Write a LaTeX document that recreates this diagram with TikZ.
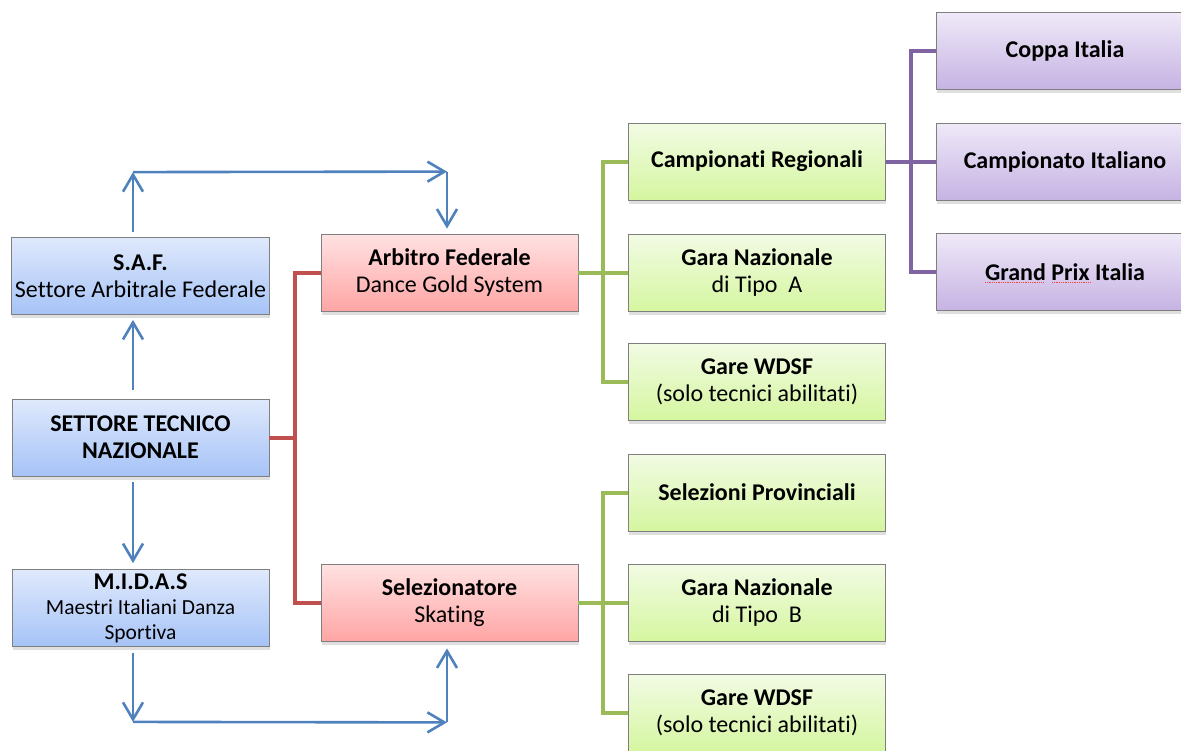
\documentclass[tikz,border=0pt]{standalone}
\usepackage{fontspec}
\setmainfont[Ligatures=NoCommon]{Carlito}
\usetikzlibrary{calc}
\usetikzlibrary{shadows}
\usetikzlibrary{arrows.meta}

\definecolor{boxgray}{HTML}{7F7F7F}
\definecolor{bluetop}{HTML}{DFE9FC}
\definecolor{bluebot}{HTML}{A6C3F7}
\definecolor{redtop}{HTML}{FFE2E2}
\definecolor{redbot}{HTML}{FFA5A5}
\definecolor{grntop}{HTML}{F2FBE4}
\definecolor{grnbot}{HTML}{D5F6A0}
\definecolor{purtop}{HTML}{EFE9F8}
\definecolor{purbot}{HTML}{C6B3E3}
\definecolor{blueln}{HTML}{4F81BD}
\definecolor{redln}{HTML}{C0504D}
\definecolor{grnln}{HTML}{9BBB59}
\definecolor{purln}{HTML}{8064A2}

\tikzset{
  >={Straight Barb[length=17pt,width=20pt]},
  box/.style={draw=boxgray, line width=0.8pt, minimum width=257pt, minimum height=77pt,
    align=center, font=\fontsize{24}{27}\selectfont,
    drop shadow={shadow xshift=0.5pt, shadow yshift=-3.5pt, opacity=0.25}},
  bluebox/.style={box, top color=bluetop, bottom color=bluebot},
  redbox/.style={box, top color=redtop, bottom color=redbot},
  grnbox/.style={box, top color=grntop, bottom color=grnbot},
  purbox/.style={box, top color=purtop, bottom color=purbot},
  bluearrow/.style={draw=blueln, line width=2.6pt, ->},
  redconn/.style={draw=redln, line width=4pt},
  grnconn/.style={draw=grnln, line width=4pt},
  purconn/.style={draw=purln, line width=4pt},
}

\begin{document}
\begin{tikzpicture}[x=1pt,y=-1pt]

\useasboundingbox (0,0) rectangle (1181,750);

% colonna di sinistra
\node[bluebox] (saf) at (140.5,276) {\textbf{S.A.F.}\\Settore Arbitrale Federale};
\node[bluebox] (stn) at (140.5,437.5) {\textbf{SETTORE TECNICO}\\\textbf{NAZIONALE}};
\node[bluebox, font=\fontsize{21.5}{25}\selectfont] (midas) at (140.5,608)
  {\textbf{\fontsize{24}{25}\selectfont M.I.D.A.S}\\Maestri Italiani Danza\\Sportiva};

% arbitri
\node[redbox] (arbitro) at (449.5,272.5) {\textbf{Arbitro Federale}\\Dance Gold System};
\node[redbox] (selez) at (449.5,602.5) {\textbf{Selezionatore}\\Skating};

% gare
\node[grnbox] (campreg) at (757,161.5) {\textbf{Campionati Regionali}};
\node[grnbox] (garaA) at (757,272.5) {\textbf{Gara Nazionale}\\di Tipo\ \ A};
\node[grnbox] (wdsfA) at (757,381.5) {\textbf{Gare WDSF}\\(solo tecnici abilitati)};
\node[grnbox] (selprov) at (757,492.5) {\textbf{Selezioni Provinciali}};
\node[grnbox] (garaB) at (757,602.5) {\textbf{Gara Nazionale}\\di Tipo\ \ B};
\node[grnbox] (wdsfB) at (757,713) {\textbf{Gare WDSF}\\(solo tecnici abilitati)};

\node[purbox] (coppa) at (1065,51) {\textbf{Coppa Italia}};
\node[purbox] (campit) at (1065,161.5) {\textbf{Campionato Italiano}};
\node[purbox] (grandprix) at (1065,272) {\textbf{Grand Prix Italia}};

% sottolineatura ortografica
\draw[red!75, line width=0.8pt, densely dotted] ($(grandprix.center)+(-80,10)$) -- ($(grandprix.center)+(-21,10)$);
\draw[red!75, line width=0.8pt, densely dotted] ($(grandprix.center)+(-13,10)$) -- ($(grandprix.center)+(25,10)$);

% rami
\coordinate (rj) at ($(stn.east)+(26,0)$);
\draw[redconn] (stn.east) -- (rj);
\draw[redconn] (arbitro.west) -| (rj) |- (selez.west);

\coordinate (gj1) at ($(arbitro.east)+(25,0)$);
\draw[grnconn] (arbitro.east) -- (garaA.west);
\draw[grnconn] (campreg.west) -| (gj1) |- (wdsfA.west);

\coordinate (gj2) at ($(selez.east)+(25,0)$);
\draw[grnconn] (selez.east) -- (garaB.west);
\draw[grnconn] (selprov.west) -| (gj2) |- (wdsfB.west);

\coordinate (pj) at ($(campreg.east)+(25,0)$);
\draw[purconn] (campreg.east) -- (campit.west);
\draw[purconn] (coppa.west) -| (pj) |- (grandprix.west);

% frecce
\coordinate (top1) at ($(saf.north)+(-7.5,-65)$);
\coordinate (top2) at ($(arbitro.north)+(-2.5,-62)$);
\coordinate (bot1) at ($(midas.south)+(-7.5,75)$);
\coordinate (bot2) at ($(selez.south)+(-2.5,81)$);

\draw[bluearrow] ($(saf.north)+(-7.5,-5)$) -- (top1);
\draw[bluearrow] (top1) -- (top2);
\draw[bluearrow] (top2) -- ($(arbitro.north)+(-2.5,-5)$);
\draw[bluearrow] ($(stn.north)+(-7.5,-9)$) -- ($(saf.south)+(-7.5,5)$);
\draw[bluearrow] ($(stn.south)+(-7.5,6)$) -- ($(midas.north)+(-7.5,-6)$);
\draw[bluearrow] ($(midas.south)+(-7.5,6)$) -- (bot1);
\draw[bluearrow] (bot1) -- (bot2);
\draw[bluearrow] (bot2) -- ($(selez.south)+(-2.5,7)$);

\end{tikzpicture}
\end{document}
